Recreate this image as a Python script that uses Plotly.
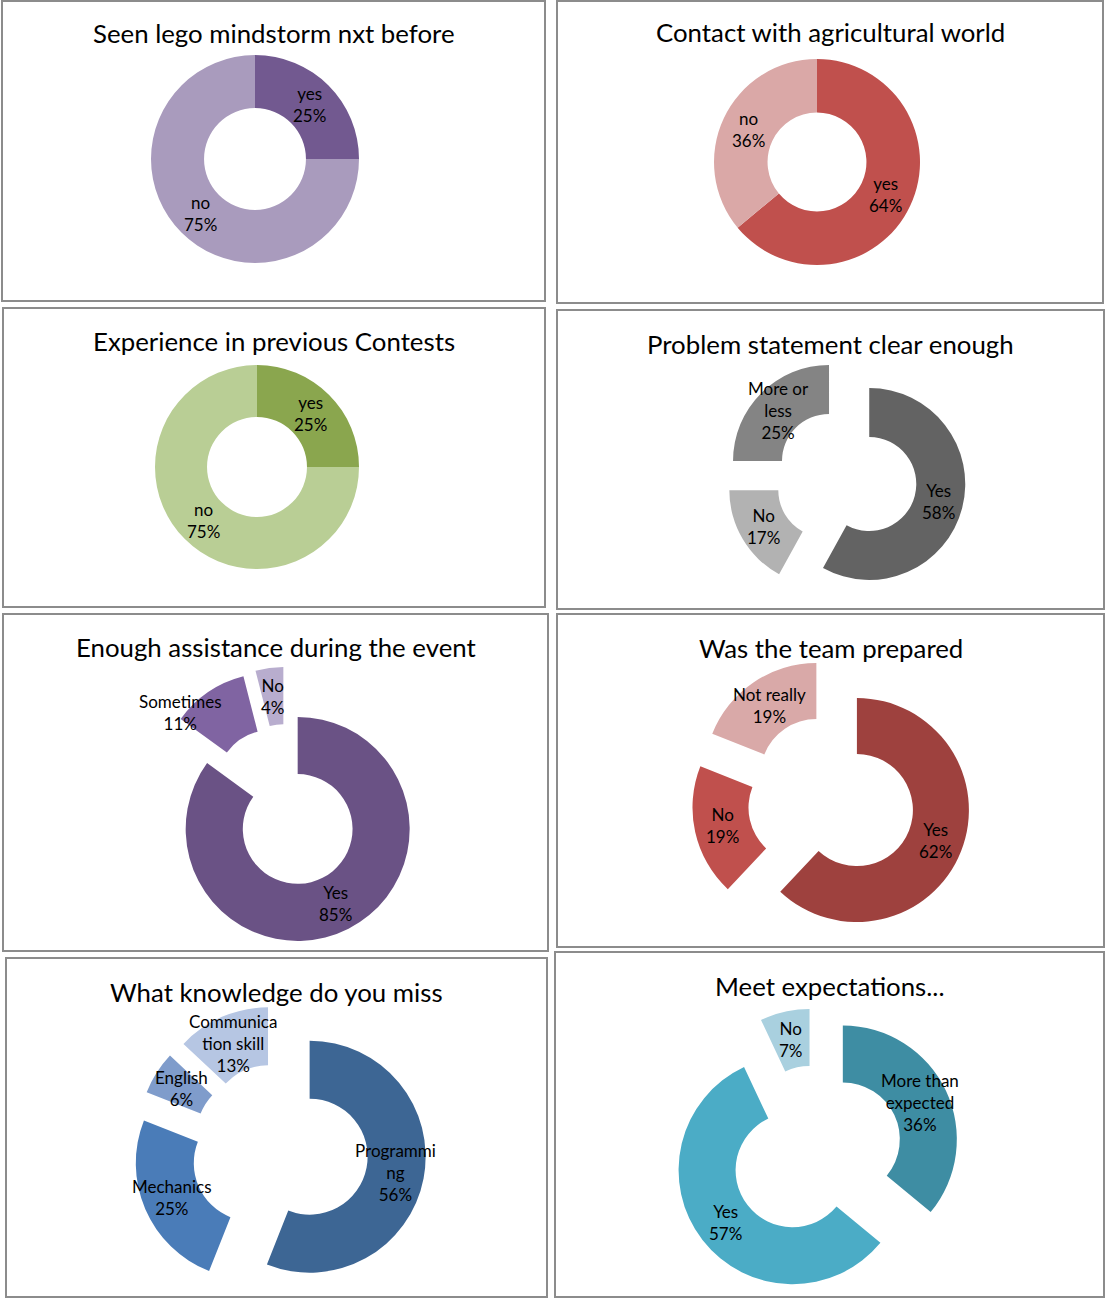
import math
import plotly.graph_objects as go

W, H = 1105, 1298

# ---------------- data ----------------
lego_title = "Seen lego mindstorm nxt before"
lego_labels = ["yes", "no"]
lego_values = [25, 75]

agri_title = "Contact with agricultural world"
agri_labels = ["yes", "no"]
agri_values = [64, 36]

contest_title = "Experience in previous Contests"
contest_labels = ["yes", "no"]
contest_values = [25, 75]

problem_title = "Problem statement clear enough"
problem_labels = ["Yes", "No", "More or less"]
problem_values = [58, 17, 25]

assist_title = "Enough assistance during the event"
assist_labels = ["Yes", "Sometimes", "No"]
assist_values = [85, 11, 4]

prepared_title = "Was the team prepared"
prepared_labels = ["Yes", "No", "Not really"]
prepared_values = [62, 19, 19]

knowledge_title = "What knowledge do you miss"
knowledge_labels = ["Programming", "Mechanics", "English", "Communication skill"]
knowledge_values = [56, 25, 6, 13]

expect_title = "Meet expectations..."
expect_labels = ["More than expected", "Yes", "No"]
expect_values = [36, 57, 7]

# how the long labels wrap inside the chart
wrapped = {
    "More or less": "More or<br>less",
    "Programming": "Programmi<br>ng",
    "Communication skill": "Communica<br>tion skill",
    "More than expected": "More than<br>expected",
}

# ---------------- layout / style (pixels) ----------------
panels = [
    dict(title=lego_title, labels=lego_labels, values=lego_values,
         colors=["#725990", "#A99BBD"], box=(2, 1, 545, 301),
         c=(255, 159), R=104, hole=0.49, pull=[0, 0], ty=33),
    dict(title=agri_title, labels=agri_labels, values=agri_values,
         colors=["#C0504D", "#DAA8A7"], box=(557, 1, 1103, 303),
         c=(817, 162), R=103, hole=0.48, pull=[0, 0], ty=32),
    dict(title=contest_title, labels=contest_labels, values=contest_values,
         colors=["#8AA64E", "#B9CE95"], box=(3, 308, 545, 607),
         c=(257, 467), R=102, hole=0.49, pull=[0, 0], ty=341),
    dict(title=problem_title, labels=problem_labels, values=problem_values,
         colors=["#636363", "#B2B2B2", "#848484"], box=(557, 310, 1104, 609),
         c=(846, 478), R=96, hole=0.49, pull=[0.25, 0.25, 0.25], ty=344),
    dict(title=assist_title, labels=assist_labels, values=assist_values,
         colors=["#6A5285", "#8064A2", "#B8ADCE"], box=(3, 614, 548, 951),
         c=(287, 808), R=112, hole=0.49, pull=[0.21, 0.25, 0.26], ty=647,
         nudge={"Sometimes": (-44, -3)}),
    dict(title=prepared_title, labels=prepared_labels, values=prepared_values,
         colors=["#9E413E", "#C0504D", "#D9A9A8"], box=(557, 614, 1104, 947),
         c=(834, 801), R=112, hole=0.5, pull=[0.22, 0.27, 0.28], ty=648),
    dict(title=knowledge_title, labels=knowledge_labels, values=knowledge_values,
         colors=["#3D6694", "#4A7CB8", "#7F9CCB", "#B6C6E3"], box=(6, 958, 547, 1297),
         c=(280, 1151), R=116, hole=0.5, pull=[0.26, 0.265, 0.26, 0.26], ty=992),
    dict(title=expect_title, labels=expect_labels, values=expect_values,
         colors=["#3E8DA3", "#4BACC6", "#A9D0DF"], box=(555, 952, 1104, 1297),
         c=(816, 1152), R=114, hole=0.5, pull=[0.26, 0.26, 0.26], ty=986),
]

FONT = "Lato, 'Open Sans', sans-serif"

def px(x):
    return x / W

def py(y):
    return 1 - y / H

fig = go.Figure()
shapes = []
annotations = []

for p in panels:
    x0, y0, x1, y1 = p["box"]
    shapes.append(dict(type="rect", xref="paper", yref="paper",
                       x0=px(x0), x1=px(x1), y0=py(y1), y1=py(y0),
                       line=dict(color="#8C8C8C", width=2), fillcolor="rgba(0,0,0,0)"))
    annotations.append(dict(text=p["title"], xref="paper", yref="paper",
                            x=px((x0 + x1) / 2), y=py(p["ty"]), showarrow=False,
                            xanchor="center", yanchor="middle",
                            font=dict(family=FONT, size=25.8, color="#000000")))
    cx, cy = p["c"]
    R = p["R"]
    maxpull = max(p["pull"])
    half = R * (1 + maxpull)
    fig.add_trace(go.Pie(
        labels=p["labels"], values=p["values"], hole=p["hole"], pull=p["pull"],
        sort=False, direction="clockwise", rotation=0,
        marker=dict(colors=p["colors"], line=dict(width=0)),
        textinfo="none", hoverinfo="label+percent", showlegend=False,
        domain=dict(x=[px(cx - half), px(cx + half)], y=[py(cy + half), py(cy - half)]),
    ))
    # data labels at the middle of each (pulled) ring segment
    total = sum(p["values"])
    cum = 0
    nudge = p.get("nudge", {})
    for lab, val, pl in zip(p["labels"], p["values"], p["pull"]):
        mid = (cum + val / 2) / total * 2 * math.pi
        cum += val
        dist = pl * R + R * (1 + p["hole"]) / 2
        lx = cx + dist * math.sin(mid)
        ly = cy - dist * math.cos(mid)
        dx, dy = nudge.get(lab, (0, 0))
        pct = round(100 * val / total)
        annotations.append(dict(text=f"{wrapped.get(lab, lab)}<br>{pct}%",
                                xref="paper", yref="paper",
                                x=px(lx + dx), y=py(ly + dy), showarrow=False,
                                xanchor="center", yanchor="middle", align="center",
                                font=dict(family=FONT, size=17, color="#000000")))

fig.update_layout(
    width=W, height=H, autosize=False,
    margin=dict(l=0, r=0, t=0, b=0),
    paper_bgcolor="white", plot_bgcolor="white",
    shapes=shapes, annotations=annotations,
)

fig.write_html("out.html")
